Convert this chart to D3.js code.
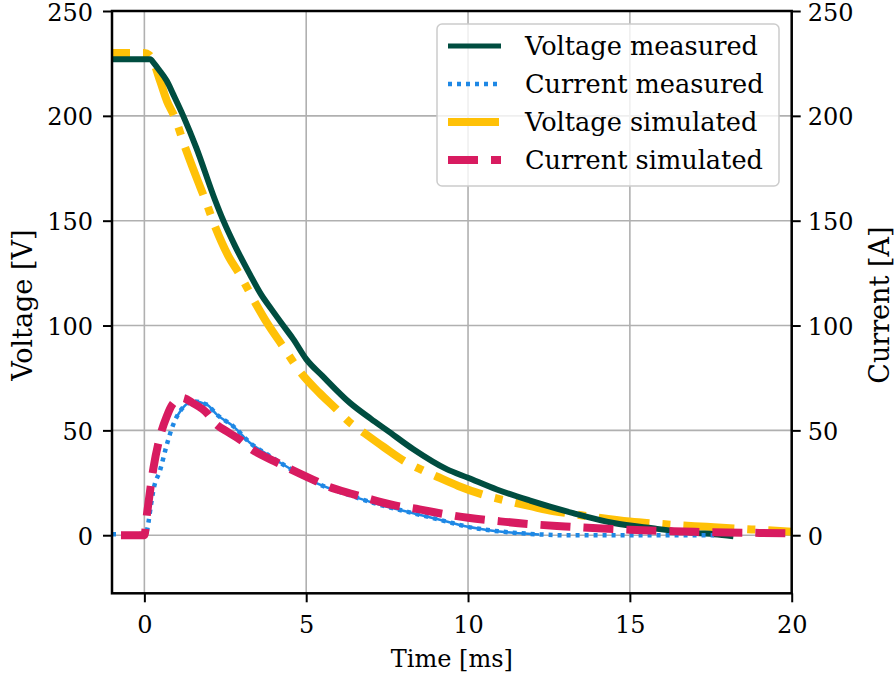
<!DOCTYPE html>
<html><head><meta charset="utf-8">
<script src="https://cdn.jsdelivr.net/npm/d3@7"></script>
<style>
body{margin:0;background:#fff}
text{font-family:"DejaVu Serif",serif;fill:#000}
</style>
</head><body>
<svg id="c" width="896" height="681"></svg>
<script>
// ---------- data ----------
const xTicks = [0, 5, 10, 15, 20];
const yTicks = [0, 50, 100, 150, 200, 250];
const seriesNames = ["Voltage measured", "Current measured", "Voltage simulated", "Current simulated"];
const seriesColors = ["#004D40", "#1E88E5", "#FFC107", "#D81B60"];

// Voltage measured [V]
const tVoltMeas = [-1, -0.5, 0, 0.18, 0.3, 0.45, 0.69, 0.9, 1.2, 1.6, 2.18, 2.44, 2.8, 3.26, 3.6, 3.93, 4.29, 4.6, 5.0, 5.5, 6.36, 7.0, 7.5, 8.31, 9.34, 10.0, 10.89, 11.92, 13.25, 14.5, 15.7, 17.07, 17.6, 18.2];
const voltMeas  = [227, 227, 227, 227, 225, 222, 216.7, 210, 200, 185, 160, 150, 138, 124.4, 115, 107.7, 100, 93.5, 84, 76, 63, 55.5, 50, 41, 31.5, 27.4, 21.8, 16.5, 10.5, 5.8, 3.3, 1, 0.5, -0.5];

// Current measured [A]
const tCurrMeas = [-1, -0.5, 0, 0.07, 0.125, 0.2, 0.28, 0.49, 0.69, 0.85, 1.0, 1.2, 1.51, 1.93, 2.24, 2.75, 3.27, 3.8, 4.3, 5.3, 6.36, 7.28, 7.9, 8.31, 9.34, 10.0, 10.7, 11.4, 12.2, 12.94, 17.6];
const currMeas  = [0.5, 0.5, 0.6, 1.7, 6, 14, 21.6, 31.2, 43, 51, 56.5, 61, 63.8, 62.3, 57.5, 51.9, 44, 38.5, 33.6, 25, 19, 14.5, 12, 10.5, 6.5, 4, 2.3, 1.2, 0.4, 0, 0];

// Voltage simulated [V]
const tVoltSim = [-1, 0, 0.15, 0.3, 0.5, 0.7, 0.92, 1.26, 1.6, 1.88, 2.19, 2.6, 2.96, 3.42, 3.8, 4.24, 4.86, 5.4, 5.94, 6.33, 6.77, 7.4, 8.05, 8.52, 9.03, 9.7, 10.47, 11.2, 12.0, 12.43, 13.2, 14.0, 15.0, 16.0, 17.0, 17.6, 18.5, 19.2, 20.0];
const voltSim  = [230, 230, 229, 225, 216, 207, 200, 185, 171, 160, 147, 133, 124, 111, 101, 91, 77, 68, 60, 54, 49, 42, 35.2, 31.5, 28, 23.5, 19.3, 16.4, 13.6, 12.1, 10.2, 8.4, 6.5, 5.3, 4.3, 3.8, 3, 2.4, 1.7];

// Current simulated [A]
const tCurrSim = [-1, 0, 0.08, 0.28, 0.5, 0.7, 0.85, 1.16, 1.5, 1.93, 2.18, 2.6, 2.96, 3.26, 4.03, 4.45, 5.22, 5.63, 6.46, 6.87, 7.74, 8.5, 9.08, 10.0, 11.0, 12.0, 13.0, 14.0, 15.0, 16.0, 17.0, 18.0, 19.0, 20.0];
const currSim  = [0, 0, 10, 32, 48, 57, 62, 65.5, 63, 58.3, 53.5, 49, 45.5, 41.6, 35.2, 32, 26.4, 23.5, 19.5, 17.7, 14.2, 12.3, 10.6, 8.3, 6.6, 5.2, 4.2, 3.3, 2.6, 2.1, 1.6, 1.3, 1.1, 0.9];

// ---------- layout ----------
const svg = d3.select("#c");
const L = 112, R = 791.7, T = 11, B = 593.3;
const x = d3.scaleLinear().domain([-1, 20]).range([L, R]);
const yV = d3.scaleLinear().domain([-27.7, 250]).range([B, T]);
const yI = d3.scaleLinear().domain([-27.7, 250]).range([B, T]);

svg.append("rect").attr("width", 896).attr("height", 681).attr("fill", "#fff");

svg.append("defs").append("clipPath").attr("id", "clip")
  .append("rect").attr("x", L).attr("y", T).attr("width", R - L).attr("height", B - T);

// grid
const grid = svg.append("g");
grid.selectAll(".gx").data(xTicks).join("line")
  .attr("x1", d => x(d)).attr("x2", d => x(d)).attr("y1", T).attr("y2", B)
  .attr("stroke", "#b0b0b0").attr("stroke-width", 1.6);
grid.selectAll(".gy").data(yTicks).join("line")
  .attr("y1", d => yV(d)).attr("y2", d => yV(d)).attr("x1", L).attr("x2", R)
  .attr("stroke", "#b0b0b0").attr("stroke-width", 1.6);

// lines
const plot = svg.append("g").attr("clip-path", "url(#clip)");
function mk(ts, vs, ys, lo, hi) {
  const idx = ts.map((t, i) => i).filter(i => (lo === undefined || ts[i] >= lo) && (hi === undefined || ts[i] <= hi));
  return d3.line().curve(d3.curveMonotoneX).x(i => x(ts[i])).y(i => ys(vs[i]))(idx);
}
plot.append("path").attr("d", mk(tVoltSim, voltSim, yV))
  .attr("fill", "none").attr("stroke", seriesColors[2]).attr("stroke-width", 8)
  .attr("stroke-dasharray", "51,13,8,13").attr("stroke-dashoffset", 33);
plot.append("path").attr("d", mk(tVoltMeas, voltMeas, yV))
  .attr("fill", "none").attr("stroke", seriesColors[0]).attr("stroke-width", 6)
  .attr("stroke-linejoin", "round");
// dense part of the noisy measured current
plot.append("path").attr("d", mk(tCurrMeas, currMeas, yI, 1.0, 12.2))
  .attr("fill", "none").attr("stroke", seriesColors[1]).attr("stroke-width", 2.5);
plot.append("path").attr("d", mk(tCurrMeas, currMeas, yI))
  .attr("fill", "none").attr("stroke", seriesColors[1]).attr("stroke-width", 4.5)
  .attr("stroke-dasharray", "4,5");
plot.append("path").attr("d", mk(tCurrSim, currSim, yI))
  .attr("fill", "none").attr("stroke", seriesColors[3]).attr("stroke-width", 8)
  .attr("stroke-dasharray", "30,13").attr("stroke-dashoffset", 34);

// axes
const fs = 24;
function styleAxis(g) {
  g.select(".domain").remove();
  g.selectAll(".tick line").attr("stroke", "#000").attr("stroke-width", 2);
  g.selectAll(".tick text").attr("font-size", fs).attr("font-family", "DejaVu Serif");
}
svg.append("g").attr("transform", `translate(0,${B})`)
  .call(d3.axisBottom(x).tickValues(xTicks).tickSize(9).tickPadding(14).tickFormat(d3.format("d")))
  .call(styleAxis);
svg.append("g").attr("transform", `translate(${L},0)`)
  .call(d3.axisLeft(yV).tickValues(yTicks).tickSize(9).tickPadding(10).tickFormat(d3.format("d")))
  .call(styleAxis)
  .selectAll(".tick text").attr("dy", "0.38em");
svg.append("g").attr("transform", `translate(${R},0)`)
  .call(d3.axisRight(yI).tickValues(yTicks).tickSize(9).tickPadding(7).tickFormat(d3.format("d")))
  .call(styleAxis)
  .selectAll(".tick text").attr("dy", "0.38em");

// spines
svg.append("rect").attr("x", L).attr("y", T).attr("width", R - L).attr("height", B - T)
  .attr("fill", "none").attr("stroke", "#000").attr("stroke-width", 2.5);

// axis labels
svg.append("text").attr("x", (L + R) / 2).attr("y", 667).attr("text-anchor", "middle")
  .attr("font-size", 24).text("Time [ms]");
svg.append("text").attr("transform", `translate(32,${(T + B) / 2 + 3}) rotate(-90)`)
  .attr("text-anchor", "middle").attr("font-size", 27).text("Voltage [V]");
svg.append("text").attr("transform", `translate(889,${(T + B) / 2 + 3}) rotate(-90)`)
  .attr("text-anchor", "middle").attr("font-size", 27).text("Current [A]");

// legend
const lg = svg.append("g");
lg.append("rect").attr("x", 437).attr("y", 24).attr("width", 342).attr("height", 162)
  .attr("rx", 5).attr("fill", "#fff").attr("fill-opacity", 0.8)
  .attr("stroke", "#cccccc").attr("stroke-width", 1.5);
const rowY = [46, 84, 122, 160];
const legDash = [null, "4,5", "51,13,8,13", "30,13"];
const legW = [5, 4.5, 8, 8];
seriesNames.forEach((n, i) => {
  lg.append("line").attr("x1", 448).attr("x2", 501).attr("y1", rowY[i]).attr("y2", rowY[i])
    .attr("stroke", seriesColors[i]).attr("stroke-width", legW[i])
    .attr("stroke-dasharray", legDash[i]);
  lg.append("text").attr("x", 525).attr("y", rowY[i]).attr("dy", "0.36em")
    .attr("font-size", 25.6).text(n);
});
</script>
</body></html>
